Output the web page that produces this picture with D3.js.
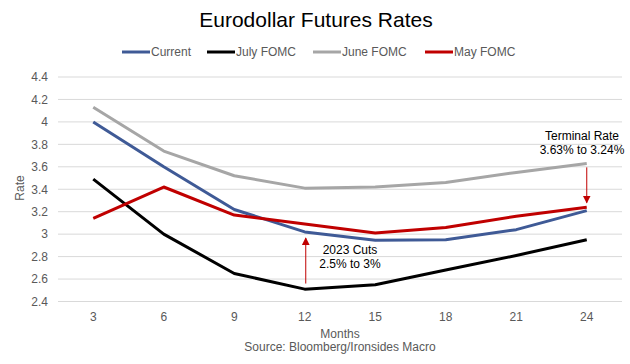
<!DOCTYPE html>
<meta charset="utf-8">
<title>Eurodollar Futures Rates</title>
<style>
  body { margin: 0; background: #fff; }
  text { font-family: "Liberation Sans", Arial, sans-serif; }
  .tick text { fill: #595959; font-size: 12px; }
  .grid line { stroke: #d9d9d9; }
  .ann { font-size: 12px; fill: #000; }
</style>
<script src="https://d3js.org/d3.v7.min.js"></script>
<div id="chart"></div>
<script>
// months to expiry
var months = [3, 6, 9, 12, 15, 18, 21, 24];
var yTicks = [2.4, 2.6, 2.8, 3, 3.2, 3.4, 3.6, 3.8, 4, 4.2, 4.4];

var current  = [4.00, 3.60, 3.22, 3.02, 2.945, 2.95, 3.04, 3.21];
var julyFomc = [3.49, 3.00, 2.65, 2.51, 2.55, 2.68, 2.81, 2.95];
var juneFomc = [4.13, 3.74, 3.52, 3.41, 3.42, 3.46, 3.55, 3.63];
var mayFomc  = [3.14, 3.42, 3.17, 3.09, 3.01, 3.06, 3.16, 3.24];

var seriesNames = ["Current", "July FOMC", "June FOMC", "May FOMC"];
var seriesColors = ["#3f5a96", "#000000", "#a6a6a6", "#c00000"];
var seriesData = [current, julyFomc, juneFomc, mayFomc];

var W = 630, H = 364;
var plotL = 58, plotR = 622, plotT = 77, plotB = 301.5;

var svg = d3.select("#chart").append("svg")
    .attr("width", W).attr("height", H);

var x = d3.scaleBand().domain(months).range([plotL, plotR]);
var y = d3.scaleLinear().domain([2.4, 4.4]).range([plotB, plotT]);

// gridlines
svg.append("g").attr("class", "grid")
  .selectAll("line").data(yTicks).enter().append("line")
    .attr("x1", plotL).attr("x2", plotR)
    .attr("y1", function(d) { return y(d); })
    .attr("y2", function(d) { return y(d); });

// y axis
var yAxis = svg.append("g")
    .attr("transform", "translate(" + (plotL - 7) + ",0)")
    .call(d3.axisLeft(y).tickValues(yTicks).tickSize(0).tickFormat(d3.format("~g")));
yAxis.select(".domain").remove();

// x axis
var xAxis = svg.append("g")
    .attr("transform", "translate(0," + (plotB + 8) + ")")
    .call(d3.axisBottom(x).tickSize(0));
xAxis.select(".domain").remove();

// lines
var line = d3.line()
    .x(function(d, i) { return x(months[i]) + x.bandwidth() / 2; })
    .y(function(d) { return y(d); });

seriesData.forEach(function(s, i) {
  svg.append("path")
    .datum(s)
    .attr("fill", "none")
    .attr("stroke", seriesColors[i])
    .attr("stroke-width", 3)
    .attr("stroke-linejoin", "round")
    .attr("d", line);
});

// arrows
svg.append("defs").append("marker")
    .attr("id", "arr").attr("viewBox", "0 0 10 10")
    .attr("refX", 9).attr("refY", 5)
    .attr("markerWidth", 8).attr("markerHeight", 8)
    .attr("markerUnits", "userSpaceOnUse")
    .attr("orient", "auto")
  .append("path").attr("d", "M0,0L10,5L0,10z").attr("fill", "#c00000");

var cx12 = x(12) + x.bandwidth() / 2 + 1, cx24 = x(24) + x.bandwidth() / 2;
svg.append("line")
    .attr("x1", cx12).attr("x2", cx12)
    .attr("y1", y(2.56)).attr("y2", y(2.965))
    .attr("stroke", "#c00000").attr("stroke-width", 1)
    .attr("marker-end", "url(#arr)");
svg.append("line")
    .attr("x1", cx24).attr("x2", cx24)
    .attr("y1", y(3.595)).attr("y2", y(3.28))
    .attr("stroke", "#c00000").attr("stroke-width", 1)
    .attr("marker-end", "url(#arr)");

svg.append("text").attr("class", "ann").attr("x", 350).attr("y", 254)
    .attr("text-anchor", "middle").text("2023 Cuts");
svg.append("text").attr("class", "ann").attr("x", 350).attr("y", 268)
    .attr("text-anchor", "middle").text("2.5% to 3%");
svg.append("text").attr("class", "ann").attr("x", 582).attr("y", 140)
    .attr("text-anchor", "middle").text("Terminal Rate");
svg.append("text").attr("class", "ann").attr("x", 582).attr("y", 154)
    .attr("text-anchor", "middle").text("3.63% to 3.24%");

// title
svg.append("text")
    .attr("x", 316).attr("y", 27)
    .attr("text-anchor", "middle")
    .style("font-size", "21px").style("fill", "#000")
    .text("Eurodollar Futures Rates");

// legend
var legendX = [122, 207, 313, 425];
var lg = svg.append("g").selectAll("g").data(seriesNames).enter().append("g")
    .attr("transform", function(d, i) { return "translate(" + legendX[i] + ",52)"; });
lg.append("line").attr("x1", 0).attr("x2", 28)
    .attr("stroke", function(d, i) { return seriesColors[i]; })
    .attr("stroke-width", 3);
lg.append("text").attr("x", 29).attr("y", 4)
    .style("font-size", "12px").style("fill", "#595959")
    .text(function(d) { return d; });

// axis titles
svg.append("text")
    .attr("transform", "translate(24,188) rotate(-90)")
    .attr("text-anchor", "middle")
    .style("font-size", "12px").style("fill", "#595959")
    .text("Rate");
svg.append("text")
    .attr("x", 340).attr("y", 338)
    .attr("text-anchor", "middle")
    .style("font-size", "12px").style("fill", "#595959")
    .text("Months");
svg.append("text")
    .attr("x", 340).attr("y", 351)
    .attr("text-anchor", "middle")
    .style("font-size", "12px").style("fill", "#595959")
    .text("Source: Bloomberg/Ironsides Macro");
</script>
